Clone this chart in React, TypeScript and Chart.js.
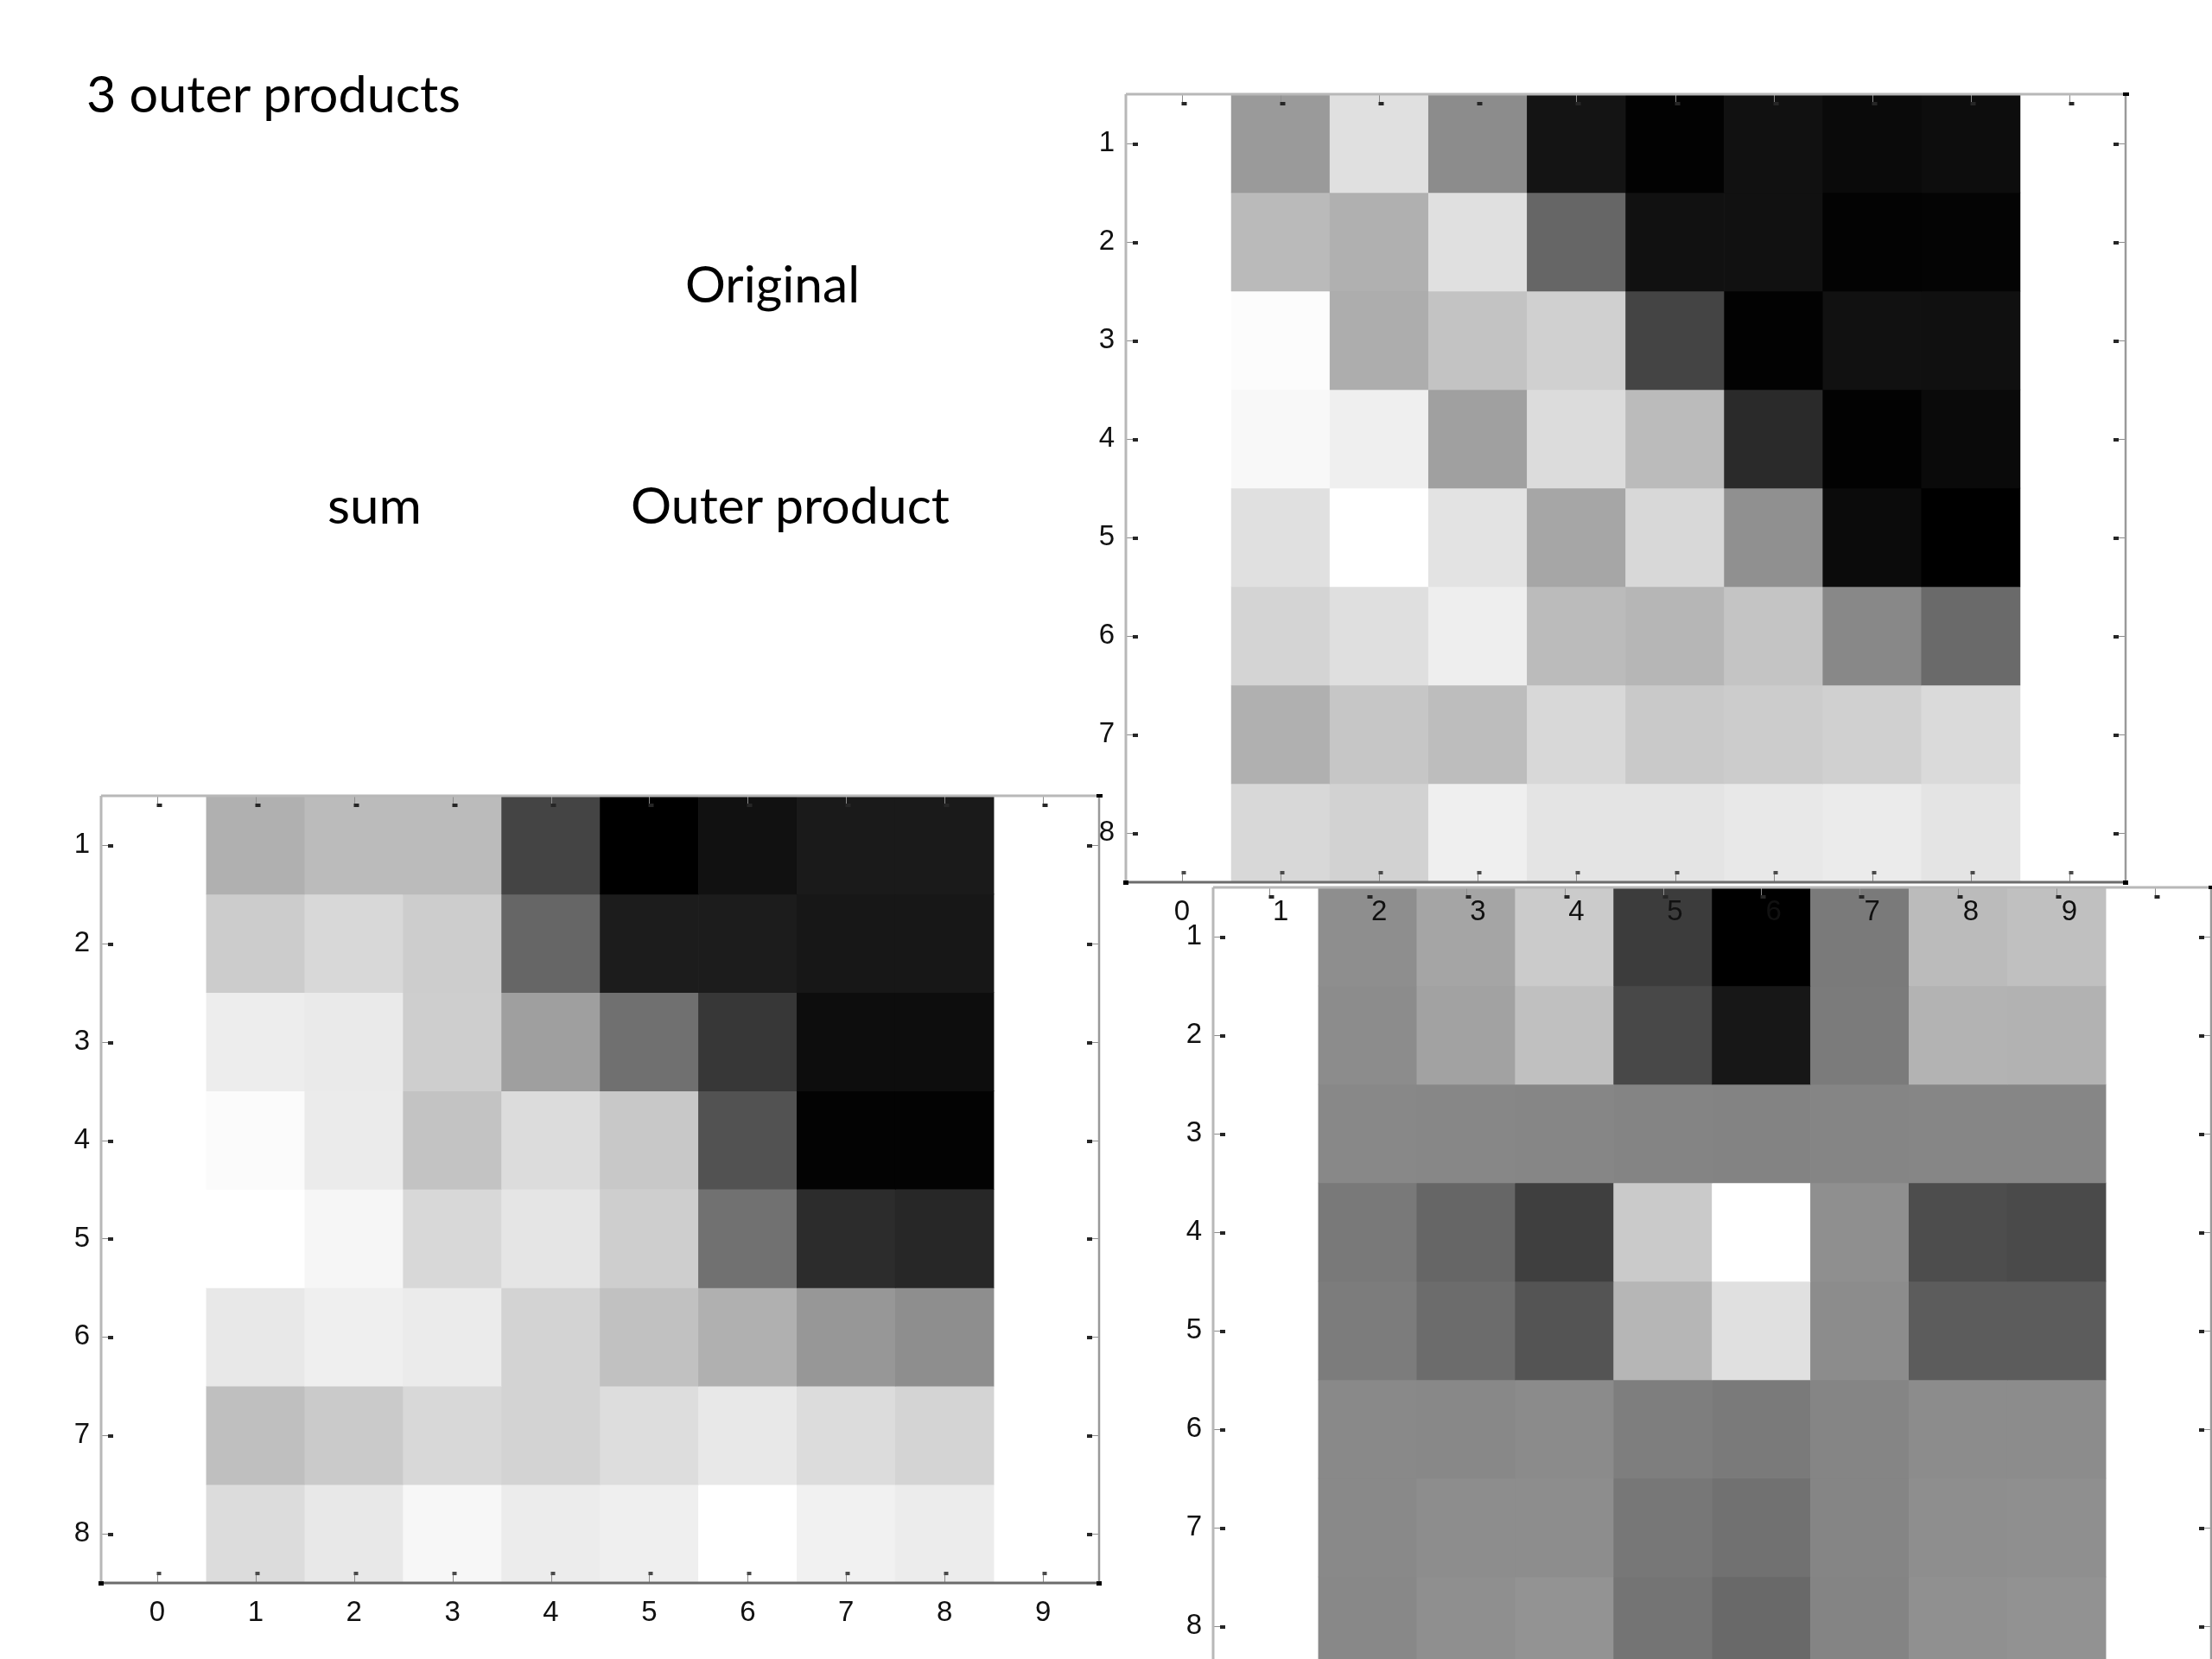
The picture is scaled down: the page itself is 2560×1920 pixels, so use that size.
import React, { useEffect, useRef } from "react";
import { Chart, registerables } from "chart.js";

Chart.register(...registerables);

// ---- data ----
const xTickValues = [0, 1, 2, 3, 4, 5, 6, 7, 8, 9];
const xTickLabels = ["0", "1", "2", "3", "4", "5", "6", "7", "8", "9"];
const yTickValues = [1, 2, 3, 4, 5, 6, 7, 8];
const yTickLabels = ["1", "2", "3", "4", "5", "6", "7", "8"];
const columns = [1, 2, 3, 4, 5, 6, 7, 8];
const rows = [1, 2, 3, 4, 5, 6, 7, 8];

// gray level of each cell: 0 = black, 255 = white (row 1 first)
const originalValues = [
  [154, 224, 140, 20, 2, 17, 10, 13],
  [186, 176, 224, 102, 17, 17, 3, 4],
  [252, 173, 195, 208, 68, 2, 17, 16],
  [248, 239, 160, 220, 187, 42, 2, 10],
  [224, 255, 227, 166, 216, 144, 11, 0],
  [212, 223, 238, 187, 182, 196, 136, 106],
  [176, 198, 189, 216, 201, 204, 208, 218],
  [216, 210, 239, 228, 228, 232, 235, 228],
];

const sumValues = [
  [176, 187, 187, 68, 0, 17, 26, 26],
  [204, 216, 205, 102, 28, 28, 23, 23],
  [237, 234, 206, 159, 112, 55, 13, 13],
  [251, 235, 195, 220, 200, 82, 3, 3],
  [255, 246, 216, 229, 206, 113, 44, 39],
  [232, 239, 235, 211, 193, 176, 151, 142],
  [191, 202, 216, 211, 221, 232, 220, 212],
  [220, 232, 247, 236, 239, 255, 241, 236],
];

const outerValues = [
  [142, 165, 203, 60, 0, 122, 187, 192],
  [140, 162, 192, 72, 23, 123, 179, 178],
  [136, 135, 134, 132, 131, 133, 134, 134],
  [121, 102, 63, 202, 255, 143, 77, 74],
  [124, 108, 84, 182, 224, 140, 92, 92],
  [137, 136, 139, 126, 122, 133, 140, 140],
  [137, 141, 141, 119, 113, 133, 142, 143],
  [136, 143, 147, 116, 105, 132, 144, 146],
];

const X_MIN = -0.57;
const X_MAX = 9.57;
const Y_MIN = 0.5;
const Y_MAX = 8.5;

// canvas margins around plot frame
const PAD_L = 70;
const PAD_R = 10;
const PAD_T = 10;
const PAD_B = 70;

const gray = (g: number) => `rgb(${g},${g},${g})`;

const framePlugin = {
  id: "matlabFrame",
  afterDraw(chart: any) {
    const { ctx, chartArea, scales } = chart;
    const { left, right, top, bottom } = chartArea;
    const xs = scales.x;
    const ys = scales.y;
    ctx.save();
    const tickLine = "#8c8c8c";
    const tickDot = "#262626";
    ctx.lineWidth = 1;
    xs.ticks.forEach((t: any) => {
      const px = Math.round(xs.getPixelForValue(t.value)) + 0.5;
      ctx.strokeStyle = tickLine;
      ctx.beginPath();
      ctx.moveTo(px, top);
      ctx.lineTo(px, top + 9);
      ctx.moveTo(px, bottom);
      ctx.lineTo(px, bottom - 9);
      ctx.stroke();
      ctx.fillStyle = tickDot;
      ctx.fillRect(px - 1, top + 9, 6, 4);
      ctx.fillStyle = "#4a4a4a";
      ctx.fillRect(px - 1, bottom - 13, 5, 4);
    });
    ys.ticks.forEach((t: any) => {
      const py = Math.round(ys.getPixelForValue(t.value)) + 0.5;
      ctx.strokeStyle = tickLine;
      ctx.beginPath();
      ctx.moveTo(left, py);
      ctx.lineTo(left + 8, py);
      ctx.moveTo(right, py);
      ctx.lineTo(right - 8, py);
      ctx.stroke();
      ctx.fillStyle = tickDot;
      ctx.fillRect(left + 8, py - 1.5, 6, 4);
      ctx.fillRect(right - 14, py - 1.5, 6, 4);
    });
    // frame
    ctx.lineWidth = 3;
    ctx.strokeStyle = "#b8b8b8";
    ctx.beginPath();
    ctx.moveTo(left, top);
    ctx.lineTo(right, top);
    ctx.moveTo(left, top);
    ctx.lineTo(left, bottom);
    ctx.stroke();
    ctx.lineWidth = 2.5;
    ctx.strokeStyle = "#9a9a9a";
    ctx.beginPath();
    ctx.moveTo(right, top);
    ctx.lineTo(right, bottom);
    ctx.stroke();
    ctx.lineWidth = 3;
    ctx.strokeStyle = "#6c6c6c";
    ctx.beginPath();
    ctx.moveTo(left, bottom);
    ctx.lineTo(right, bottom);
    ctx.stroke();
    ctx.fillStyle = "#000";
    ctx.fillRect(left - 3, bottom - 2, 6, 5);
    ctx.fillRect(right - 3, bottom - 2, 6, 5);
    ctx.fillRect(right - 3, top - 2, 7, 4);
    ctx.restore();
  },
};

type Frame = { left: number; top: number; width: number; height: number };

function Heatmap({ values, frame, z }: { values: number[][]; frame: Frame; z: number }) {
  const ref = useRef<HTMLCanvasElement>(null);
  const W = PAD_L + frame.width + PAD_R;
  const H = PAD_T + frame.height + PAD_B;

  useEffect(() => {
    if (!ref.current) return;
    const datasets = rows.map((r, i) => ({
      label: `row ${r}`,
      data: columns.map((c) => ({ x: c, y: [r - 0.5, r + 0.5] })),
      backgroundColor: values[i].map(gray),
      borderWidth: 0,
      barPercentage: 1,
      categoryPercentage: 1,
      grouped: false,
    }));
    const tickFont = { family: "'Liberation Sans', Arial, sans-serif", size: 33 };
    const chart = new Chart(ref.current, {
      type: "bar",
      data: { datasets: datasets as any },
      options: {
        animation: false,
        responsive: false,
        maintainAspectRatio: false,
        layout: { padding: { left: 0, top: PAD_T, right: PAD_R, bottom: 0 } },
        plugins: { legend: { display: false }, tooltip: { enabled: false } },
        scales: {
          x: {
            type: "linear",
            min: X_MIN,
            max: X_MAX,
            offset: false,
            grid: { display: false },
            border: { display: false },
            ticks: {
              font: tickFont,
              color: "#111",
              padding: 7,
              maxRotation: 0,
              autoSkip: false,
              callback: (v: any) => {
                const idx = xTickValues.indexOf(Number(v));
                return idx >= 0 ? xTickLabels[idx] : "";
              },
            },
            afterBuildTicks: (s: any) => {
              s.ticks = xTickValues.map((v) => ({ value: v }));
            },
            afterFit: (s: any) => {
              s.height = PAD_B;
              s.paddingLeft = 0;
              s.paddingRight = 0;
              s.paddingTop = 0;
              s.paddingBottom = 0;
            },
          } as any,
          y: {
            type: "linear",
            reverse: true,
            min: Y_MIN,
            max: Y_MAX,
            beginAtZero: false,
            offset: false,
            grid: { display: false },
            border: { display: false },
            ticks: {
              font: tickFont,
              color: "#111",
              padding: 5,
              autoSkip: false,
              callback: (v: any) => {
                const idx = yTickValues.indexOf(Number(v));
                return idx >= 0 ? yTickLabels[idx] : "";
              },
            },
            afterBuildTicks: (s: any) => {
              s.ticks = yTickValues.map((v) => ({ value: v }));
            },
            afterFit: (s: any) => {
              s.width = PAD_L;
              s.paddingLeft = 0;
              s.paddingRight = 0;
              s.paddingTop = 0;
              s.paddingBottom = 0;
            },
          } as any,
        },
      },
      plugins: [framePlugin],
    });
    return () => chart.destroy();
  }, []);

  return (
    <canvas
      ref={ref}
      width={W}
      height={H}
      style={{
        position: "absolute",
        left: frame.left - PAD_L,
        top: frame.top - PAD_T,
        width: W,
        height: H,
        zIndex: z,
      }}
    />
  );
}

const textFont = "Lato, 'Open Sans', sans-serif";

export default function App() {
  return (
    <div
      style={{
        position: "fixed",
        left: 0,
        top: 0,
        width: 2560,
        height: 1920,
        background: "#ffffff",
        overflow: "hidden",
      }}
    >
      <svg
        width={2560}
        height={1920}
        style={{ position: "absolute", left: 0, top: 0, zIndex: 0 }}
      >
        <text x={100} y={130} fontFamily={textFont} fontSize={59} fill="#000" textLength={433} lengthAdjust="spacingAndGlyphs">
          3 outer products
        </text>
        <text x={793} y={350} fontFamily={textFont} fontSize={59} fill="#000" textLength={202} lengthAdjust="spacingAndGlyphs">
          Original
        </text>
        <text x={379} y={606} fontFamily={textFont} fontSize={59} fill="#000" textLength={109} lengthAdjust="spacingAndGlyphs">
          sum
        </text>
        <text x={730} y={606} fontFamily={textFont} fontSize={59} fill="#000" textLength={369} lengthAdjust="spacingAndGlyphs">
          Outer product
        </text>
      </svg>
      <Heatmap values={sumValues} frame={{ left: 117, top: 921, width: 1155, height: 911 }} z={1} />
      <Heatmap values={outerValues} frame={{ left: 1404, top: 1027, width: 1155, height: 912 }} z={2} />
      <Heatmap values={originalValues} frame={{ left: 1303, top: 109, width: 1157, height: 912 }} z={3} />
    </div>
  );
}
